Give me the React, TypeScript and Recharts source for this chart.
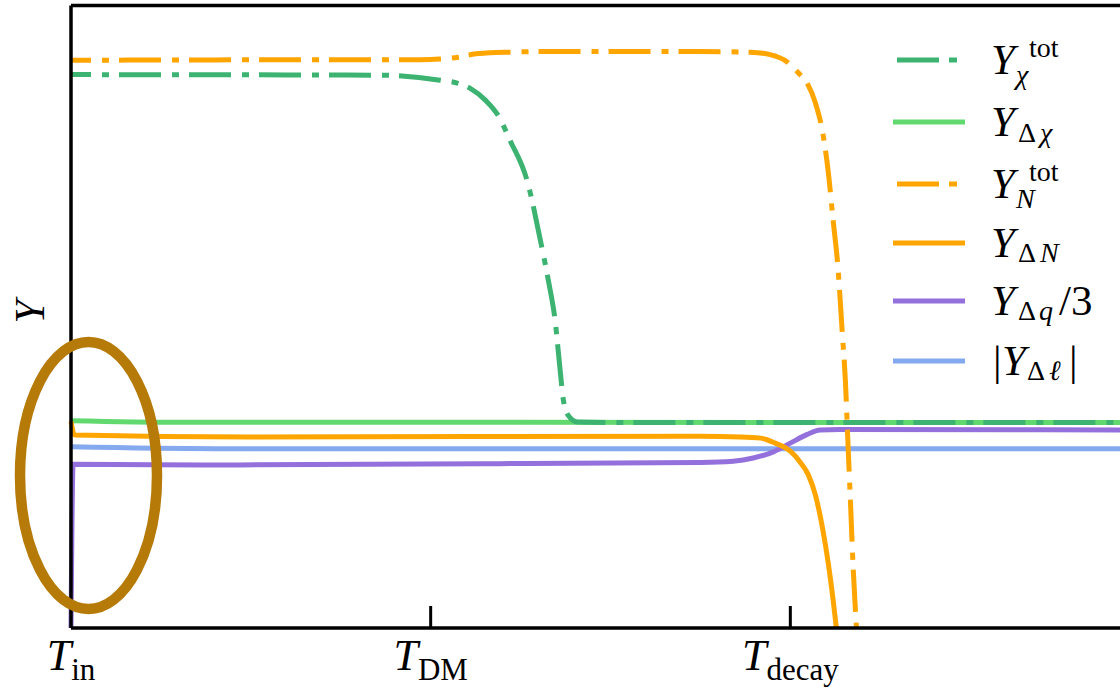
import React from "react";
import { LineChart, Line, XAxis, YAxis, ReferenceLine, Legend } from "recharts";

type Pt = { x: number; y: number };

// x is measured in tick units: T_in = 0, T_DM = 1, T_decay = 2
const xTicks = [0, 1, 2];
const xTickSubs = ["in", "DM", "decay"];

const chiTot: Pt[] = [
  { x: 0, y: 88.9 }, { x: 0.86, y: 88.8 }, { x: 1.026, y: 88.0 }, { x: 1.076, y: 87.5 },
  { x: 1.11, y: 86.7 }, { x: 1.152, y: 84.8 }, { x: 1.188, y: 82.3 }, { x: 1.221, y: 78.3 },
  { x: 1.268, y: 71.9 }, { x: 1.305, y: 62.3 }, { x: 1.327, y: 55.9 }, { x: 1.346, y: 49.4 },
  { x: 1.36, y: 41.4 }, { x: 1.369, y: 36.6 }, { x: 1.382, y: 34.2 }, { x: 1.408, y: 33.1 },
  { x: 1.527, y: 33.0 }, { x: 3, y: 33.0 },
];
const deltaChi: Pt[] = [
  { x: 0, y: 33.3 }, { x: 0.3, y: 33.05 }, { x: 3, y: 33.0 },
];
const nTot: Pt[] = [
  { x: 0, y: 91.2 }, { x: 0.86, y: 91.3 }, { x: 0.971, y: 91.3 }, { x: 1.026, y: 91.4 },
  { x: 1.076, y: 91.7 }, { x: 1.11, y: 92.1 }, { x: 1.165, y: 92.4 }, { x: 1.221, y: 92.5 },
  { x: 1.305, y: 92.6 }, { x: 1.75, y: 92.6 }, { x: 1.889, y: 92.5 }, { x: 1.944, y: 92.1 },
  { x: 1.992, y: 90.9 }, { x: 2.022, y: 89.2 }, { x: 2.047, y: 87.5 }, { x: 2.07, y: 84.3 },
  { x: 2.089, y: 79.9 }, { x: 2.105, y: 73.5 }, { x: 2.119, y: 65.5 }, { x: 2.133, y: 57.5 },
  { x: 2.144, y: 47.8 }, { x: 2.153, y: 39.8 }, { x: 2.161, y: 28.6 }, { x: 2.167, y: 20.5 },
  { x: 2.175, y: 9.3 }, { x: 2.184, y: 0 },
];
const deltaN: Pt[] = [
  { x: 0, y: 33.2 }, { x: 0.01, y: 31.0 }, { x: 0.5, y: 30.7 }, { x: 1.75, y: 30.8 },
  { x: 1.861, y: 30.7 }, { x: 1.917, y: 30.5 }, { x: 1.958, y: 29.7 }, { x: 2.0, y: 28.4 },
  { x: 2.028, y: 26.6 }, { x: 2.05, y: 24.6 }, { x: 2.07, y: 21.3 }, { x: 2.089, y: 16.2 },
  { x: 2.105, y: 10.6 }, { x: 2.119, y: 4.5 }, { x: 2.128, y: 0 },
];
const deltaQ3: Pt[] = [
  { x: 0, y: 0 }, { x: 0.006, y: 26.3 }, { x: 0.4, y: 26.2 }, { x: 1.193, y: 26.4 },
  { x: 1.75, y: 26.6 }, { x: 1.841, y: 26.8 }, { x: 1.897, y: 27.3 }, { x: 1.953, y: 28.3 },
  { x: 2.0, y: 29.7 }, { x: 2.047, y: 31.1 }, { x: 2.083, y: 31.8 }, { x: 2.139, y: 31.9 },
  { x: 3, y: 31.8 },
];
const deltaL: Pt[] = [
  { x: 0, y: 29.1 }, { x: 0.4, y: 28.8 }, { x: 3, y: 28.8 },
];

const DARK_GREEN = "#3cb371";
const LIGHT_GREEN = "#62d96e";
const ORANGE = "#ffa500";
const PURPLE = "#9370db";
const BLUE = "#85a9ee";
const DASH = "42 11 7 10";
const SERIF = "'Liberation Serif', 'DejaVu Serif', serif";

function XTick(props: any) {
  const { x, y, payload, index } = props;
  const sub = xTickSubs[index] ?? "";
  return (
    <g>
      {payload.value !== 0 && (
        <line x1={x} x2={x} y1={y} y2={y - 22} stroke="#000" strokeWidth={3} />
      )}
      <text x={x} y={y + 42} textAnchor="middle" fontFamily={SERIF} fill="#000">
        <tspan fontStyle="italic" fontSize={44}>T</tspan>
        <tspan fontSize={31} dy={10}>{sub}</tspan>
      </text>
    </g>
  );
}

function YLabel(props: any) {
  const vb = props.viewBox ?? { x: 0, y: 5.5, width: 71, height: 622.5 };
  const cx = vb.x + 30;
  const cy = vb.y + vb.height / 2 - 5;
  return (
    <text
      x={cx}
      y={cy + 14}
      textAnchor="middle"
      transform={`rotate(-90, ${cx}, ${cy})`}
      fontFamily={SERIF}
      fontStyle="italic"
      fontSize={42}
      fill="#000"
    >
      Y
    </text>
  );
}

const legendRows = [60, 122, 184, 243, 301, 361];

function LegendBox() {
  const ox = 880;
  const oy = 20;
  const t = (x: number, y: number, s: string, size: number, italic: boolean) => (
    <text x={x - ox} y={y - oy} fontFamily={SERIF} fontSize={size} fontStyle={italic ? "italic" : "normal"} fill="#000">
      {s}
    </text>
  );
  const items = [
    { color: DARK_GREEN, dashed: true },
    { color: LIGHT_GREEN, dashed: false },
    { color: ORANGE, dashed: true },
    { color: ORANGE, dashed: false },
    { color: PURPLE, dashed: false },
    { color: BLUE, dashed: false },
  ];
  const b = legendRows.map((r) => r + 14);
  return (
    <svg width={240} height={390}>
      {items.map((it, i) =>
        it.dashed ? (
          <g key={i}>
            <line x1={897 - ox} x2={939 - ox} y1={legendRows[i] - oy} y2={legendRows[i] - oy} stroke={it.color} strokeWidth={5} />
            <line x1={949 - ox} x2={957 - ox} y1={legendRows[i] - oy} y2={legendRows[i] - oy} stroke={it.color} strokeWidth={5} />
          </g>
        ) : (
          <line key={i} x1={893 - ox} x2={965 - ox} y1={legendRows[i] - oy} y2={legendRows[i] - oy} stroke={it.color} strokeWidth={5} />
        )
      )}
      {/* Y_chi^tot */}
      {t(991, b[0], "Y", 43, true)}
      {t(1029, b[0] - 17, "tot", 28, false)}
      {t(1016, b[0] + 10, "χ", 28, true)}
      {/* Y_Δχ */}
      {t(991, b[1], "Y", 43, true)}
      {t(1018, b[1] + 6, "Δ", 28, false)}
      {t(1040, b[1] + 6, "χ", 28, true)}
      {/* Y_N^tot */}
      {t(991, b[2], "Y", 43, true)}
      {t(1029, b[2] - 17, "tot", 28, false)}
      {t(1016, b[2] + 10, "N", 28, true)}
      {/* Y_ΔN */}
      {t(991, b[3], "Y", 43, true)}
      {t(1018, b[3] + 5, "Δ", 28, false)}
      {t(1040, b[3] + 5, "N", 28, true)}
      {/* Y_Δq/3 */}
      {t(991, b[4], "Y", 43, true)}
      {t(1018, b[4] + 5, "Δ", 28, false)}
      {t(1039, b[4] + 5, "q", 28, true)}
      {t(1059, b[4], "/3", 43, false)}
      {/* |Y_Δℓ| */}
      {t(993, b[5], "|", 43, false)}
      {t(1002, b[5], "Y", 43, true)}
      {t(1027, b[5] + 5, "Δ", 28, false)}
      {t(1049, b[5] + 5, "ℓ", 28, true)}
      {t(1069, b[5], "|", 43, false)}
    </svg>
  );
}

export default function App() {
  const lineProps = {
    type: "monotone" as const,
    dataKey: "y",
    dot: false,
    activeDot: false,
    strokeWidth: 5,
    isAnimationActive: false,
  };
  return (
    <div
      style={{
        position: "fixed",
        left: 0,
        top: 0,
        width: 1120,
        height: 689,
        overflow: "hidden",
        background: "#fff",
      }}
    >
      <LineChart width={1200} height={689} margin={{ top: 5.5, right: 50, bottom: 0, left: 0 }}>
        <XAxis
          dataKey="x"
          type="number"
          domain={[0, 3]}
          ticks={xTicks}
          height={61}
          tickSize={0}
          tickMargin={0}
          tickLine={false}
          axisLine={{ stroke: "#000", strokeWidth: 3.5 }}
          tick={<XTick />}
          interval={0}
        />
        <YAxis
          type="number"
          domain={[0, 100]}
          width={71}
          tick={false}
          tickLine={false}
          axisLine={{ stroke: "#000", strokeWidth: 3.5 }}
          label={<YLabel />}
        />
        <ReferenceLine y={100} stroke="#000" strokeWidth={3.5} />
        <Line {...lineProps} data={deltaChi} stroke={LIGHT_GREEN} />
        <Line {...lineProps} data={chiTot} stroke={DARK_GREEN} strokeDasharray={DASH} strokeDashoffset={22} />
        <Line {...lineProps} data={deltaL} stroke={BLUE} />
        <Line {...lineProps} data={deltaQ3} stroke={PURPLE} />
        <Line {...lineProps} data={deltaN} stroke={ORANGE} />
        <Line {...lineProps} data={nTot} stroke={ORANGE} strokeDasharray={DASH} strokeDashoffset={22} />
        <Legend
          layout="vertical"
          align="center"
          verticalAlign="middle"
          wrapperStyle={{ left: 880, top: 20, width: 240, height: 390 }}
          content={() => <LegendBox />}
        />
      </LineChart>
      <svg
        width={1120}
        height={689}
        style={{ position: "absolute", left: 0, top: 0, pointerEvents: "none" }}
      >
        <ellipse cx={88.5} cy={475.5} rx={68.5} ry={133.5} fill="none" stroke="#b57a07" strokeWidth={10.5} />
      </svg>
    </div>
  );
}
